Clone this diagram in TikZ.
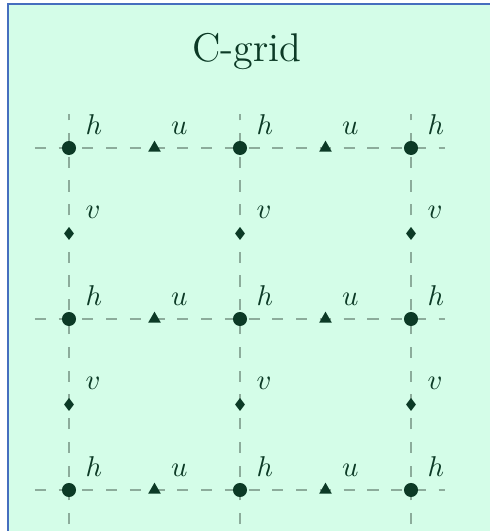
\documentclass[tikz,border=0pt]{standalone}
\usepackage{amsmath}
\usepackage{xcolor}
\usetikzlibrary{shapes.geometric}
\definecolor{GridBg}{RGB}{212,253,232}
\definecolor{GridFrame}{RGB}{70,110,190}
\definecolor{GridInk}{RGB}{12,58,38}
\definecolor{GridLine}{RGB}{140,172,155}
\tikzset{
  hpt/.style={circle,fill=GridInk,inner sep=0pt,minimum size=4.9pt},
  upt/.style={regular polygon,regular polygon sides=3,fill=GridInk,inner sep=0pt,minimum size=5.1pt},
  vpt/.style={diamond,fill=GridInk,inner sep=0pt,minimum width=3.6pt,minimum height=4.7pt},
  glbl/.style={anchor=base west,inner sep=0pt,text=GridInk},
  gline/.style={GridLine,line width=0.75pt,dash pattern=on 3.9pt off 4.4pt},
}

\begin{document}
\begin{tikzpicture}[x=2.1cm,y=2.1cm]
  \useasboundingbox (-0.4035,-0.2398) rectangle (2.462,2.8655);
  \fill[GridBg] (-0.3567,-0.2398) rectangle (2.462,2.842);
  \draw[GridFrame,line width=0.45pt] (-0.3567,-0.2398) -- (-0.3567,2.842) -- (2.462,2.842);
  \node[text=GridInk,font=\fontsize{14}{17}\selectfont,anchor=base,inner sep=0pt] (title) at (1.039,2.503) {C-grid};
  % grid lines
  \foreach \k in {0,1,2} {
    \draw[gline] (-0.2,\k) -- (2.2,\k);
    \draw[gline] (\k,-0.2) -- (\k,2.2);
  }
  % h points
  \foreach \i in {0,1,2} \foreach \j in {0,1,2} {
    \node[hpt] (h\i\j) at (\i,\j) {};
    \node[glbl] (hl\i\j) at (\i+0.094,\j+0.076) {$h$};
  }
  % u points
  \foreach \i in {0,1} \foreach \j in {0,1,2} {
    \node[upt] (u\i\j) at (\i+0.5,\j) {};
    \node[glbl] (ul\i\j) at (\i+0.594,\j+0.076) {$u$};
  }
  % v points
  \foreach \i in {0,1,2} \foreach \j in {0,1} {
    \node[vpt] (v\i\j) at (\i,\j+0.5) {};
    \node[glbl] (vl\i\j) at (\i+0.094,\j+0.588) {$v$};
  }
\end{tikzpicture}
\end{document}
